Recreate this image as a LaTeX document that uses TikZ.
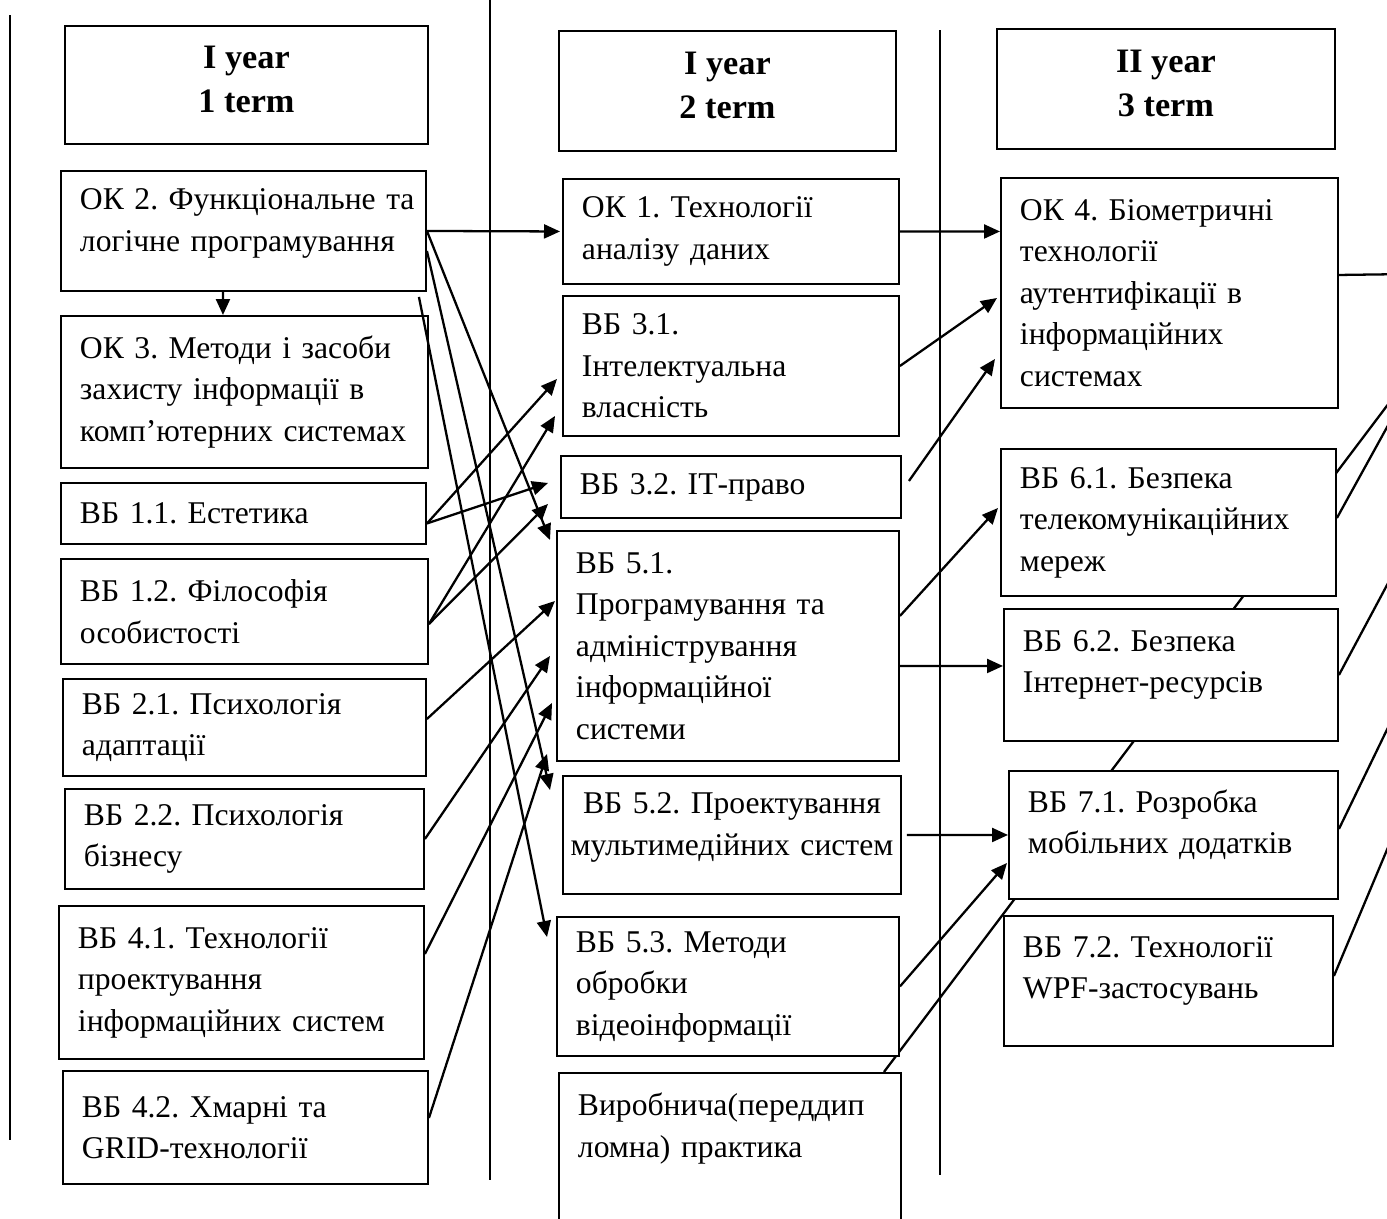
\documentclass[tikz,border=0pt]{standalone}
\usepackage{fontspec}
\setmainfont{Liberation Serif}
\usetikzlibrary{arrows.meta,backgrounds}
\frenchspacing

\begin{document}
\begin{tikzpicture}[>={Triangle[length=3.2mm,width=2.8mm]},
	box/.style={draw, line width=1.1pt, fill=white, anchor=north west, align=left, inner xsep=0.38cm, inner ysep=0.1cm, font=\fontsize{18}{23.6}\selectfont},
	head/.style={box, align=center, font=\bfseries\fontsize{19.5}{25}\selectfont},
	link/.style={->, line width=1.3pt}]% {{{ curriculum
	\useasboundingbox (0,0) rectangle (27.74,-24.36);
	\draw[line width=1.1pt] (0.2,-0.3) -- (0.2,-22.8);
	\draw[line width=1.1pt] (9.8,0) -- (9.8,-23.6);
	\draw[line width=1.1pt] (18.8,-0.6) -- (18.8,-23.5);

	% I year, 1 term
	\node[head, minimum width=7.26cm, minimum height=2.36cm] (h1) at (1.28,-0.5) {I year\\1 term\\[-0.64cm]~};
	\node[box, text width=6.54cm, minimum height=2.4cm] (ok2) at (1.2,-3.4) {ОК~2.~Функціональне~та\\логічне~програмування\\[-0.4cm]~};
	\node[box, text width=6.58cm, minimum height=3.04cm] (ok3) at (1.2,-6.3) {ОК 3. Методи і засоби\\захисту інформації в\\комп'ютерних~системах};
	\node[box, text width=6.54cm, minimum height=1.22cm] (vb11) at (1.2,-9.64) {ВБ 1.1. Естетика};
	\node[box, text width=6.58cm, minimum height=2.1cm] (vb12) at (1.2,-11.16) {ВБ 1.2. Філософія\\особистості};
	\node[box, text width=6.5cm, minimum height=1.94cm] (vb21) at (1.24,-13.56) {ВБ 2.1. Психологія\\адаптації};
	\node[box, text width=6.42cm, minimum height=2.0cm] (vb22) at (1.28,-15.76) {ВБ 2.2. Психологія\\бізнесу};
	\node[box, text width=6.54cm, minimum height=3.06cm] (vb41) at (1.16,-18.1) {ВБ 4.1. Технології\\проектування\\інформаційних~систем};
	\node[box, text width=6.54cm, minimum height=2.26cm] (vb42) at (1.24,-21.4) {ВБ 4.2. Хмарні та\\GRID-технології};

	% I year, 2 term
	\node[head, minimum width=6.74cm, minimum height=2.4cm] (h2) at (11.16,-0.6) {I year\\2 term\\[-0.64cm]~};
	\node[box, text width=5.96cm, minimum height=2.1cm] (ok1) at (11.24,-3.56) {ОК 1. Технології\\аналізу даних};
	\node[box, text width=5.96cm, minimum height=2.8cm] (vb31) at (11.24,-5.9) {ВБ 3.1.\\Інтелектуальна\\власність};
	\node[box, text width=6.04cm, minimum height=1.24cm] (vb32) at (11.2,-9.1) {ВБ 3.2. ІТ-право};
	\node[box, text width=6.08cm, minimum height=4.6cm] (vb51) at (11.12,-10.6) {ВБ 5.1.\\Програмування та\\адміністрування\\інформаційної\\системи};
	\node[box, align=center, inner xsep=0.08cm, text width=6.6cm, minimum height=2.36cm] (vb52) at (11.24,-15.5) {ВБ 5.2. Проектування\\мультимедійних~систем\\[-0.4cm]~};
	\node[box, text width=6.08cm, minimum height=2.78cm] (vb53) at (11.12,-18.32) {ВБ 5.3. Методи\\обробки\\відеоінформації};
	\node[box, inner ysep=0.4cm, text width=6.08cm] (prac) at (11.16,-21.44) {Виробнича(переддип\\ломна) практика\\[2.4cm]~};

	% II year, 3 term
	\node[head, minimum width=6.76cm, minimum height=2.4cm] (h3) at (19.92,-0.56) {II year\\3 term\\[-0.64cm]~};
	\node[box, text width=5.98cm, minimum height=4.6cm] (ok4) at (20,-3.54) {ОК 4. Біометричні\\технології\\аутентифікації в\\інформаційних\\системах};
	\node[box, text width=5.94cm, minimum height=2.94cm] (vb61) at (20,-8.96) {ВБ 6.1. Безпека\\телекомунікаційних\\мереж};
	\node[box, text width=5.92cm, minimum height=2.64cm] (vb62) at (20.06,-12.16) {ВБ 6.2. Безпека\\Інтернет-ресурсів\\[-0.3cm]~};
	\node[box, text width=5.82cm, minimum height=2.56cm] (vb71) at (20.16,-15.4) {ВБ 7.1. Розробка\\мобільних додатків\\[-0.3cm]~};
	\node[box, text width=5.82cm, minimum height=2.6cm] (vb72) at (20.06,-18.3) {ВБ 7.2. Технології\\WPF-застосувань\\[-0.3cm]~};

	\coordinate (pend) at (28.4,-7.24);
	\coordinate (r1) at (28.2,-5.48);
	\coordinate (r2) at (28.2,-7.71);
	\coordinate (r3) at (28.2,-10.84);
	\coordinate (r4) at (28.2,-13.64);
	\coordinate (r5) at (28.2,-15.9);

	% 1 term -> 2 term
	\draw[link] (ok2.east) -- ([xshift=-0.04cm]ok1.west);
	\draw[link] (ok2.east) -- ([xshift=-0.12cm,yshift=-0.2cm]vb51.north west);
	\draw[link] ([yshift=-0.4cm]ok2.east) -- ([xshift=-0.24cm,yshift=-0.3cm]vb52.north west);
	\draw[link] ([xshift=-0.16cm,yshift=-0.1cm]ok2.south east) -- ([xshift=-0.18cm,yshift=-0.42cm]vb53.north west);
	\draw[link] ([xshift=-0.41cm]ok2.south) -- ([xshift=-0.43cm]ok3.north);
	\draw[link] ([yshift=-0.2cm]vb11.east) -- ([xshift=-0.1cm,yshift=-0.26cm]vb31.west);
	\draw[link] ([yshift=-0.2cm]vb11.east) -- ([xshift=-0.24cm,yshift=0.08cm]vb32.west);
	\draw[link] ([yshift=-0.25cm]vb12.east) -- ([xshift=-0.14cm,yshift=-1.0cm]vb31.west);
	\draw[link] ([yshift=-0.25cm]vb12.east) -- ([xshift=-0.24cm,yshift=-0.34cm]vb32.west);
	\draw[link] ([yshift=0.17cm]vb21.east) -- ([xshift=-0.02cm,yshift=0.9cm]vb51.west);
	\draw[link] (vb22.east) -- ([xshift=-0.12cm,yshift=-0.2cm]vb51.west);
	\draw[link] ([yshift=0.57cm]vb41.east) -- ([xshift=-0.08cm,yshift=-1.14cm]vb51.west);
	\draw[link] ([yshift=0.19cm]vb42.east) -- ([xshift=-0.18cm,yshift=-2.16cm]vb51.west);

	% 2 term -> 3 term
	\draw[link] (ok1.east) -- ([yshift=1.23cm]ok4.west);
	\draw[link] (vb31.east) -- ([xshift=-0.06cm,yshift=-0.1cm]ok4.west);
	\draw[link] ([xshift=0.14cm,yshift=0.12cm]vb32.east) -- ([xshift=-0.1cm,yshift=-1.32cm]ok4.west);
	\draw[link] ([yshift=0.6cm]vb51.east) -- ([xshift=-0.04cm,yshift=0.29cm]vb61.west);
	\draw[link] ([yshift=-0.4cm]vb51.east) -- ([yshift=0.18cm]vb62.west);
	\draw[link] ([xshift=0.1cm]vb52.east) -- (vb71.west);
	\draw[link] (vb53.east) -- ([xshift=-0.02cm,yshift=-0.56cm]vb71.west);
	\begin{scope}[on background layer]
		\draw[line width=1.3pt] ([xshift=-0.36cm]prac.north east) -- (pend);
	\end{scope}

	% 3 term -> further
	\draw[line width=1.3pt] ([yshift=0.36cm]ok4.east) -- (r1);
	\draw[line width=1.3pt] ([yshift=0.09cm]vb61.east) -- (r2);
	\draw[line width=1.3pt] (vb62.east) -- (r3);
	\draw[line width=1.3pt] ([yshift=0.12cm]vb71.east) -- (r4);
	\draw[line width=1.3pt] ([yshift=0.1cm]vb72.east) -- (r5);
\end{tikzpicture}
\end{document}
